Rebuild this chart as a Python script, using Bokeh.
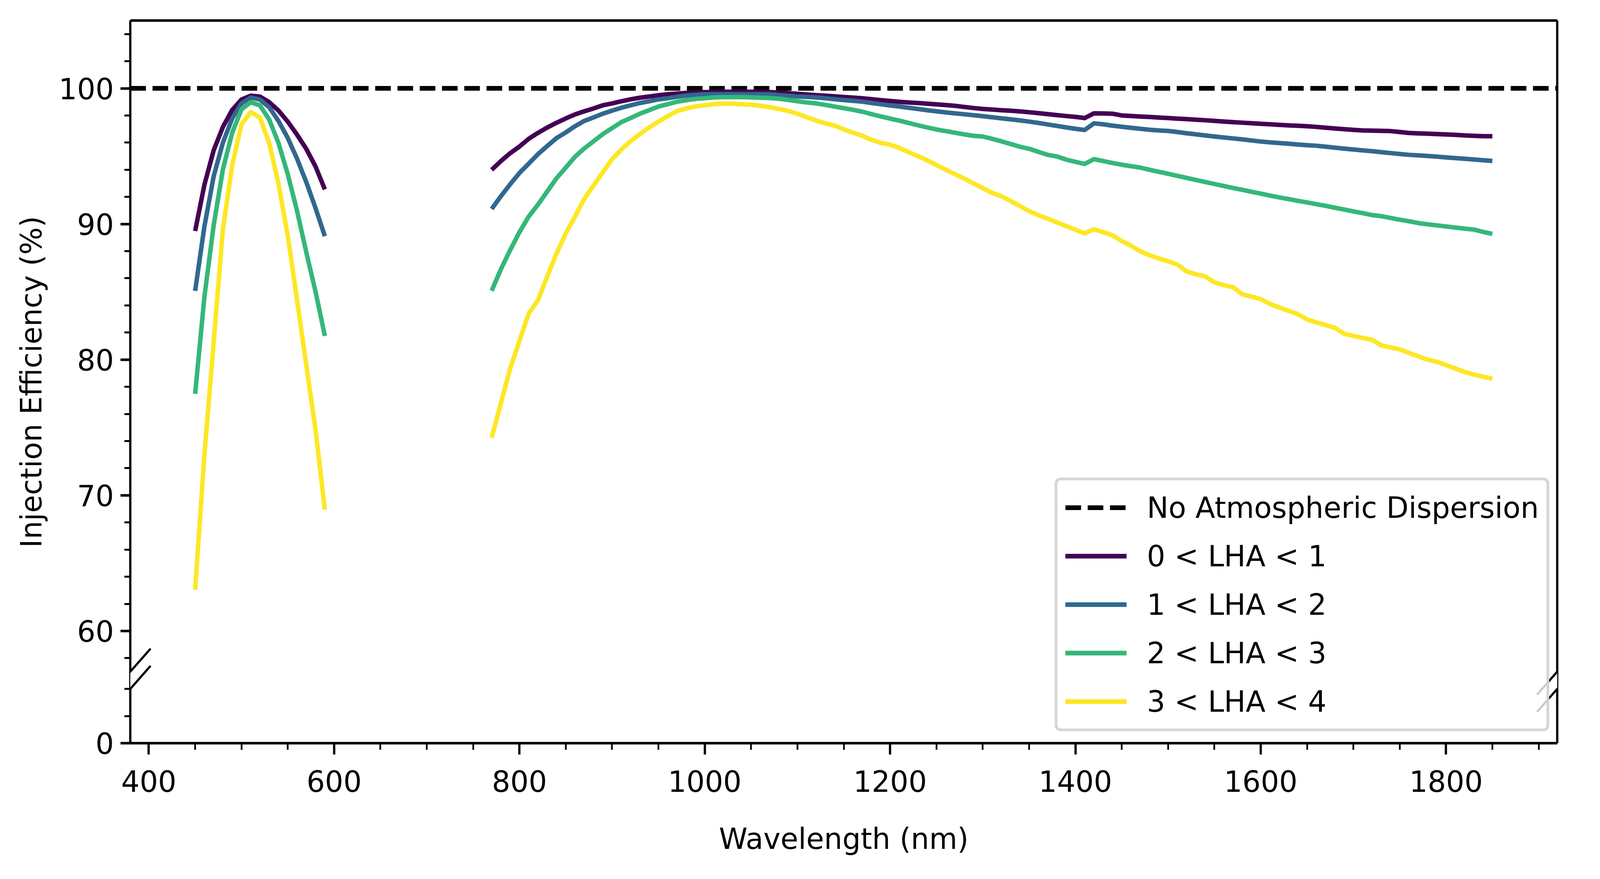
from bokeh.plotting import figure
from bokeh.models import (BoxAnnotation, Arrow, Legend, LegendItem, FixedTicker,
                          LinearAxis, CustomJSTickFormatter, Range1d)
from bokeh.embed import file_html
from bokeh.resources import INLINE

# ---------------- data ----------------
VIS_WL = list(range(450, 600, 10))
NIR_WL = list(range(770, 1860, 10))

LHA01_VIS = [89.48, 92.89, 95.43, 97.16, 98.41, 99.17, 99.46, 99.39, 98.98, 98.36, 97.54, 96.58, 95.53, 94.23, 92.55]
LHA12_VIS = [85.07, 89.82, 93.51, 96.01, 97.78, 98.89, 99.32, 99.17, 98.60, 97.59, 96.34, 94.81, 93.08, 91.16, 89.10]
LHA23_VIS = [77.48, 84.63, 89.91, 94.04, 96.73, 98.45, 98.98, 98.74, 97.69, 95.96, 93.66, 90.97, 87.90, 85.00, 81.75]
LHA34_VIS = [63.04, 72.97, 81.29, 89.63, 94.33, 97.35, 98.26, 97.83, 95.96, 92.94, 89.14, 84.40, 79.58, 74.81, 68.94]

LHA01_NIR = [93.99, 94.64, 95.22, 95.71, 96.28, 96.72, 97.11, 97.46, 97.78, 98.08,
             98.31, 98.52, 98.75, 98.89, 99.05, 99.19, 99.31, 99.40, 99.49, 99.56,
             99.61, 99.66, 99.70, 99.72, 99.73, 99.75, 99.75, 99.75, 99.75, 99.73,
             99.72, 99.69, 99.65, 99.6, 99.55, 99.5, 99.46, 99.41, 99.36, 99.32,
             99.27, 99.2, 99.13, 99.07, 99.01, 98.96, 98.92, 98.87, 98.82, 98.77,
             98.71, 98.63, 98.55, 98.48, 98.44, 98.39, 98.35, 98.3, 98.24, 98.17,
             98.1, 98.03, 97.96, 97.9, 97.81, 98.16, 98.15, 98.13, 98.0, 97.96,
             97.92, 97.89, 97.85, 97.81, 97.77, 97.73, 97.69, 97.65, 97.6, 97.55,
             97.51, 97.47, 97.43, 97.39, 97.35, 97.31, 97.27, 97.24, 97.21, 97.16,
             97.1, 97.04, 96.99, 96.94, 96.9, 96.88, 96.87, 96.85, 96.78, 96.71,
             96.68, 96.66, 96.63, 96.6, 96.57, 96.53, 96.5, 96.47, 96.47]
LHA12_NIR = [91.11, 92.05, 92.93, 93.76, 94.45, 95.15, 95.75, 96.33, 96.75, 97.21,
             97.60, 97.86, 98.13, 98.36, 98.57, 98.75, 98.92, 99.05, 99.19, 99.27,
             99.38, 99.47, 99.52, 99.56, 99.57, 99.57, 99.57, 99.56, 99.56, 99.57,
             99.56, 99.50, 99.45, 99.40, 99.37, 99.33, 99.27, 99.2, 99.14, 99.08,
             99.02, 98.92, 98.83, 98.74, 98.66, 98.57, 98.48, 98.39, 98.31, 98.23,
             98.16, 98.09, 98.02, 97.95, 97.87, 97.79, 97.72, 97.64, 97.55, 97.45,
             97.34, 97.23, 97.12, 97.02, 96.93, 97.42, 97.35, 97.25, 97.17, 97.09,
             97.02, 96.95, 96.9, 96.86, 96.78, 96.69, 96.61, 96.53, 96.45, 96.38,
             96.31, 96.24, 96.16, 96.08, 96.02, 95.97, 95.92, 95.86, 95.81, 95.77,
             95.7, 95.63, 95.56, 95.49, 95.43, 95.37, 95.3, 95.23, 95.16, 95.1,
             95.06, 95.02, 94.97, 94.91, 94.86, 94.81, 94.76, 94.7, 94.65]
LHA23_NIR = [85.08, 86.67, 88.08, 89.40, 90.55, 91.43, 92.40, 93.37, 94.16, 94.96,
             95.57, 96.10, 96.63, 97.07, 97.51, 97.81, 98.13, 98.39, 98.66, 98.83,
             99.01, 99.13, 99.22, 99.27, 99.33, 99.35, 99.35, 99.35, 99.33, 99.31,
             99.29, 99.24, 99.15, 99.05, 98.96, 98.89, 98.78, 98.66, 98.54, 98.42,
             98.28, 98.1, 97.93, 97.77, 97.62, 97.45, 97.28, 97.12, 96.97, 96.85,
             96.73, 96.61, 96.5, 96.45, 96.28, 96.1, 95.9, 95.7, 95.55, 95.32,
             95.1, 94.98, 94.75, 94.58, 94.43, 94.78, 94.64, 94.5, 94.37, 94.26,
             94.16, 94.0, 93.85, 93.7, 93.55, 93.4, 93.25, 93.1, 92.95, 92.8,
             92.66, 92.52, 92.38, 92.24, 92.1, 91.96, 91.84, 91.71, 91.59, 91.46,
             91.34, 91.2, 91.07, 90.93, 90.8, 90.66, 90.58, 90.45, 90.32, 90.2,
             90.07, 89.98, 89.9, 89.82, 89.74, 89.66, 89.59, 89.42, 89.27]
LHA34_NIR = [74.24, 76.80, 79.35, 81.38, 83.41, 84.38, 86.14, 87.82, 89.31, 90.55,
             91.87, 92.84, 93.81, 94.78, 95.49, 96.11, 96.63, 97.11, 97.55, 97.95,
             98.32, 98.52, 98.67, 98.75, 98.84, 98.87, 98.87, 98.83, 98.80, 98.71,
             98.62, 98.48, 98.34, 98.13, 97.88, 97.63, 97.42, 97.26, 96.98, 96.73,
             96.5, 96.2, 95.98, 95.85, 95.6, 95.3, 95.0, 94.7, 94.35, 94.0,
             93.68, 93.35, 93.0, 92.65, 92.3, 92.05, 91.7, 91.33, 90.95, 90.65,
             90.4, 90.12, 89.85, 89.58, 89.31, 89.61, 89.4, 89.17, 88.75, 88.4,
             87.99, 87.7, 87.46, 87.25, 87.02, 86.5, 86.3, 86.14, 85.7, 85.5,
             85.35, 84.82, 84.65, 84.47, 84.11, 83.85, 83.6, 83.36, 82.97, 82.75,
             82.55, 82.35, 81.91, 81.75, 81.6, 81.47, 81.06, 80.9, 80.76, 80.5,
             80.25, 80.0, 79.85, 79.6, 79.35, 79.1, 78.9, 78.75, 78.6]

SERIES_LABELS = ["0 < LHA < 1", "1 < LHA < 2", "2 < LHA < 3", "3 < LHA < 4"]
SERIES_VIS = [LHA01_VIS, LHA12_VIS, LHA23_VIS, LHA34_VIS]
SERIES_NIR = [LHA01_NIR, LHA12_NIR, LHA23_NIR, LHA34_NIR]
REFERENCE_LEVEL = 100
REFERENCE_LABEL = "No Atmospheric Dispersion"

X_MAJOR = [400, 600, 800, 1000, 1200, 1400, 1600, 1800]
X_MINOR = [450, 500, 550, 650, 700, 750, 850, 900, 950, 1050, 1100, 1150,
           1250, 1300, 1350, 1450, 1500, 1550, 1650, 1700, 1750, 1850, 1900]
Y_MAJOR_UPPER = [60, 70, 80, 90, 100]
Y_MINOR_UPPER = [58, 62, 64, 66, 68, 72, 74, 76, 78, 82, 84, 86, 88, 92, 94, 96, 98, 102, 104]
Y_LOWER_MINOR = [2, 4]

# ---------------- styling / layout ----------------
SX = 4096 / 4693          # horizontal css px per reference pixel (vertical is 1:1)

COLORS = ["#440154", "#31688e", "#35b779", "#fde725"]
FONT = "DejaVu Sans"
FS = "74px"

X_START, X_END = 380, 1920
Y_TOP = 105
UPPER_LOW = 57          # bottom of the upper segment of the broken axis
LOWER_HIGH = 4          # top of the lower segment (0..4)
GAP = 1.27              # visual gap between the two segments, in upper units
Y0 = UPPER_LOW - GAP - LOWER_HIGH   # where "0" of the lower segment sits

FRAME_W, FRAME_H = 3653, 1849
B_LEFT, B_TOP = 333, 52
B_RIGHT, B_BOTTOM = 4080 - B_LEFT - FRAME_W, 2233 - B_TOP - FRAME_H

p = figure(frame_width=FRAME_W, frame_height=FRAME_H,
           x_range=Range1d(X_START, X_END), y_range=Range1d(Y0, Y_TOP),
           output_backend="svg", toolbar_location=None,
           min_border_left=B_LEFT, min_border_right=B_RIGHT,
           min_border_top=B_TOP, min_border_bottom=B_BOTTOM)
p.outline_line_color = None
p.grid.visible = False
p.background_fill_color = "white"
p.border_fill_color = "white"

def style_axis(ax, horizontal):
    ax.axis_line_color = "black"
    ax.axis_line_width = 6.7 if horizontal else 5.8
    ax.major_tick_line_color = "black"
    ax.major_tick_line_width = 5.8 if horizontal else 6.7
    ax.minor_tick_line_color = "black"
    ax.minor_tick_line_width = 4.4 if horizontal else 5
    ax.major_tick_in = 0
    ax.major_tick_out = 29 if horizontal else 25
    ax.minor_tick_in = 0
    ax.minor_tick_out = 17 if horizontal else 15
    ax.major_label_text_font = FONT
    ax.major_label_text_font_size = FS
    ax.major_label_text_color = "black"
    ax.axis_label_text_font = FONT
    ax.axis_label_text_font_size = FS
    ax.axis_label_text_font_style = "normal"
    ax.axis_label_text_color = "black"

xa = p.xaxis[0]
style_axis(xa, True)
xa.ticker = FixedTicker(ticks=X_MAJOR, minor_ticks=X_MINOR)
xa.axis_label = "Wavelength (nm)"
xa.major_label_standoff = 40
xa.axis_label_standoff = 74

ya = p.yaxis[0]
style_axis(ya, False)
ya.ticker = FixedTicker(ticks=[Y0] + Y_MAJOR_UPPER,
                        minor_ticks=[Y0 + v for v in Y_LOWER_MINOR] + Y_MINOR_UPPER)
ya.formatter = CustomJSTickFormatter(args=dict(y0=Y0, lim=UPPER_LOW - GAP),
                                     code="return tick < lim ? (tick - y0).toFixed(0) : tick.toFixed(0);")
ya.axis_label = "Injection Efficiency (%)"
ya.major_label_standoff = 17
ya.axis_label_standoff = 24

for place, horiz in (("above", True), ("right", False)):
    ax = LinearAxis(ticker=FixedTicker(ticks=[]))
    style_axis(ax, horiz)
    ax.major_tick_line_color = None
    ax.minor_tick_line_color = None
    p.add_layout(ax, place)

# reference level across the whole axis (like axhline)
ref_r = p.line(x=[X_START, X_END], y=[REFERENCE_LEVEL, REFERENCE_LEVEL],
               line_color="black", line_width=12, line_dash="40 17")

items = [LegendItem(label=REFERENCE_LABEL, renderers=[ref_r])]
for lab, vis, nir, col in zip(SERIES_LABELS, SERIES_VIS, SERIES_NIR, COLORS):
    r1 = p.line(VIS_WL, vis, line_color=col, line_width=11.5, line_join="round")
    r2 = p.line(NIR_WL, nir, line_color=col, line_width=11.5, line_join="round")
    items.append(LegendItem(label=lab, renderers=[r1, r2]))

# broken-axis gap and marks
PX_X = FRAME_W / (X_END - X_START)     # px per nm
PX_Y = FRAME_H / (Y_TOP - Y0)          # px per unit
for xs in (X_START, X_END):
    p.add_layout(BoxAnnotation(left=xs - 4 / PX_X, right=xs + 4 / PX_X,
                               bottom=Y0 + LOWER_HIGH, top=UPPER_LOW,
                               fill_color="white", fill_alpha=1.0, line_color=None))
DX, DY = 59.5 * SX / PX_X, 59 / PX_Y
for xs in (X_START, X_END):
    for yc in (UPPER_LOW, Y0 + LOWER_HIGH):
        p.add_layout(Arrow(end=None, x_start=xs - DX, y_start=yc - DY,
                           x_end=xs + DX, y_end=yc + DY,
                           line_color="black", line_width=5.5))

legend = Legend(items=items, location=(2367, 30), margin=0,
                label_text_font=FONT, label_text_font_size=FS, label_text_color="black",
                glyph_width=157, glyph_height=99, label_height=99,
                label_standoff=52, spacing=25, padding=20,
                border_line_color="#cccccc", border_line_alpha=0.8, border_line_width=7.5,
                background_fill_color="white", background_fill_alpha=0.8)
try:
    legend.border_radius = 15
except Exception:
    pass
p.add_layout(legend)

open("out.html", "w").write(file_html(p, INLINE))
